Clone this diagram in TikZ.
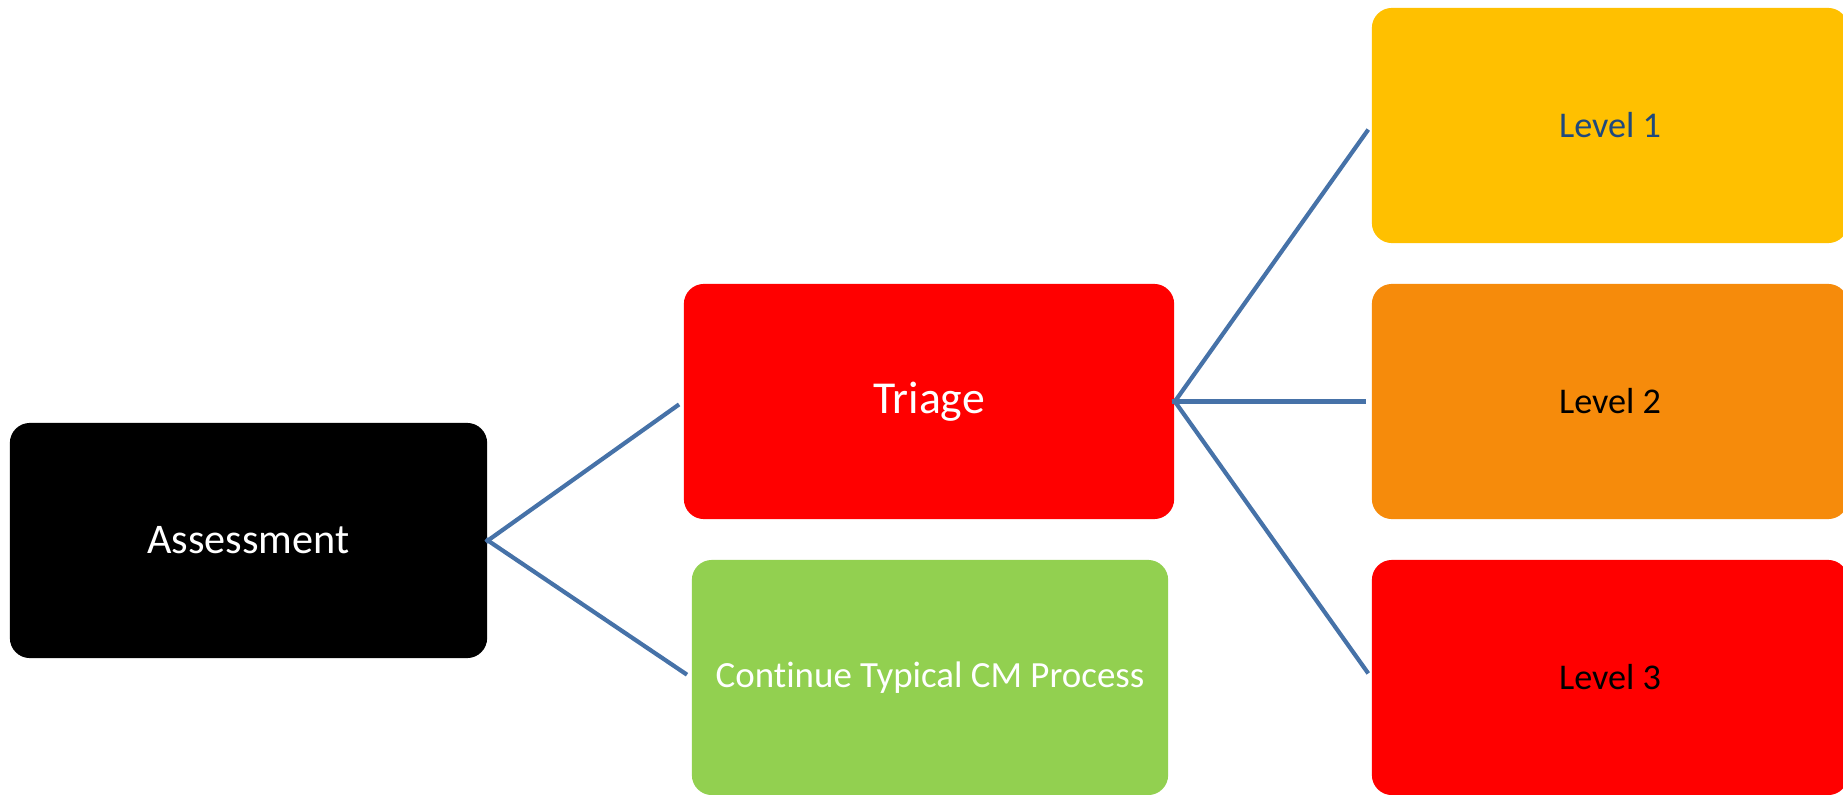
\documentclass[tikz,border=0pt]{standalone}
\usepackage{fontspec}
\setmainfont{Carlito}[Ligatures=NoCommon]

\definecolor{linkblue}{RGB}{70,114,168}
\definecolor{triagered}{RGB}{255,0,0}
\definecolor{cmgreen}{RGB}{146,208,80}
\definecolor{levelone}{RGB}{255,192,0}
\definecolor{levelonetext}{RGB}{31,73,125}
\definecolor{leveltwo}{RGB}{246,139,11}
\definecolor{levelthree}{RGB}{255,0,0}

\begin{document}
\begin{tikzpicture}[x=0.01cm, y=-0.01cm,
    stage/.style ={rectangle, rounded corners=0.2cm, inner sep=0pt,
      minimum width=4.76cm, minimum height=2.35cm, text=white},
    level/.style ={stage, text=black, font=\fontsize{10.3}{12}\selectfont},
    link/.style ={draw=linkblue, line width=0.042cm,
      shorten >=0.05cm, shorten <=-0.025cm}]
   \useasboundingbox (0,0) rectangle (1843,794);
   \clip (0,0) rectangle (1843,794);
   \node[stage, fill=black, minimum width=4.77cm,
     font=\fontsize{12}{14}\selectfont] (assess) at (248.5,540.5) {Assessment};
   \node[stage, fill=triagered, minimum width=4.90cm,
     font=\fontsize{13}{15}\selectfont] (triage) at (929,401.5) {Triage};
   \node[stage, fill=cmgreen,
     font=\fontsize{10.5}{12}\selectfont] (typical) at (930,677.5) {Continue Typical CM Process};
   \node[level, fill=levelone, text=levelonetext] (one) at (1610,125.5) {Level 1};
   \node[level, fill=leveltwo] (two) at (1610,401.5) {Level 2};
   \node[level, fill=levelthree] (three) at (1610,677.5) {Level 3};
   \draw[link] (assess.east) to (triage.west);
   \draw[link] (assess.east) to (typical.west);
   \draw[link] (triage.east) to (one.west);
   \draw[link] (triage.east) to (two.west);
   \draw[link] (triage.east) to (three.west);
\end{tikzpicture}
\end{document}
